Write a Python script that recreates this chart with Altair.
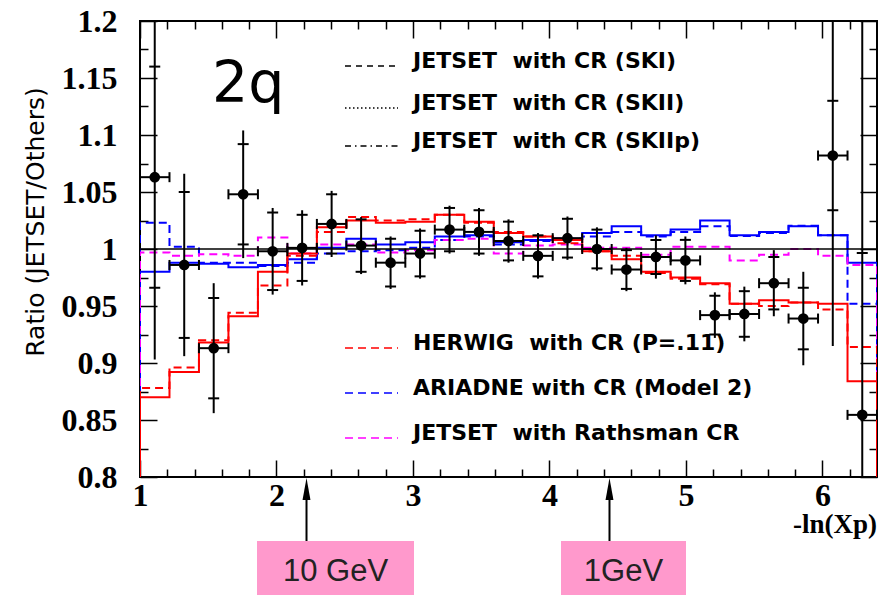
import altair as alt
import pandas as pd

# ---------------- data ----------------
bin_edges = [1.000, 1.216, 1.432, 1.648, 1.864, 2.080, 2.296, 2.512, 2.728, 2.944,
             3.160, 3.376, 3.592, 3.808, 4.024, 4.240, 4.456, 4.672, 4.888, 5.104,
             5.320, 5.536, 5.752, 5.968, 6.184, 6.400]
bin_centers = [1.108, 1.324, 1.540, 1.756, 1.972, 2.188, 2.404, 2.620, 2.836, 3.052,
               3.268, 3.484, 3.700, 3.916, 4.132, 4.348, 4.564, 4.780, 4.996, 5.212,
               5.428, 5.644, 5.860, 6.076, 6.292]
data_ratio = [1.063, 0.986, 0.913, 1.048, 0.998, 1.001, 1.022, 1.003, 0.988, 0.996,
              1.017, 1.015, 1.007, 0.994, 1.0095, 1.000, 0.982, 0.993, 0.990, 0.942,
              0.943, 0.970, 0.939, 1.082, 0.8545]
stat_err = [0.097, 0.064, 0.044, 0.044, 0.034, 0.029, 0.026, 0.023, 0.021, 0.020,
            0.019, 0.019, 0.017, 0.018, 0.017, 0.017, 0.017, 0.015, 0.018, 0.017,
            0.020, 0.023, 0.027, 0.048, 0.142]
total_err = [0.160, 0.080, 0.057, 0.056, 0.038, 0.033, 0.029, 0.025, 0.023, 0.022,
             0.021, 0.021, 0.019, 0.020, 0.019, 0.019, 0.019, 0.019, 0.021, 0.020,
             0.024, 0.029, 0.041, 0.167, 0.400]

herwig_plain = [0.870, 0.892, 0.918, 0.941, 0.980, 0.996, 1.019, 1.025, 1.023, 1.024,
                1.030, 1.024, 1.014, 1.011, 1.008, 0.998, 0.991, 0.980, 0.975, 0.970,
                0.952, 0.955, 0.953, 0.952, 0.884]
herwig_cr = [0.878, 0.896, 0.920, 0.944, 0.968, 0.994, 1.015, 1.028, 1.025, 1.026,
             1.030, 1.023, 1.015, 1.011, 1.005, 0.998, 0.994, 0.979, 0.974, 0.969,
             0.952, 0.950, 0.953, 0.947, 0.914]
ariadne_plain = [0.980, 0.988, 0.987, 0.984, 0.986, 0.991, 1.001, 1.009, 1.004, 1.006,
                 1.011, 1.012, 1.006, 1.008, 1.009, 1.014, 1.020, 1.012, 1.017, 1.025,
                 1.012, 1.015, 1.020, 1.012, 0.988]
ariadne_cr = [1.023, 1.002, 0.988, 0.988, 0.985, 0.988, 0.996, 0.998, 0.999, 1.001,
              1.008, 1.011, 1.004, 1.007, 1.009, 1.011, 1.015, 1.011, 1.015, 1.020,
              1.0115, 1.014, 1.0205, 1.012, 0.952]
rathsman_cr = [0.997, 0.994, 0.9955, 0.994, 1.010, 0.996, 1.004, 1.004, 0.997, 0.999,
               1.008, 1.009, 0.996, 1.003, 1.004, 1.001, 1.001, 0.995, 1.002, 1.002,
               0.990, 0.995, 1.000, 0.994, 0.986]

reference_level = [1.0]
x_domain = [1.0, 6.4]
y_domain = [0.8, 1.2]
x_major = [1, 2, 3, 4, 5, 6]
x_minor = [1.2, 1.4, 1.6, 1.8, 2.2, 2.4, 2.6, 2.8, 3.2, 3.4, 3.6, 3.8, 4.2, 4.4, 4.6, 4.8,
           5.2, 5.4, 5.6, 5.8, 6.2]
y_major = [0.8, 0.85, 0.9, 0.95, 1.0, 1.05, 1.1, 1.15, 1.2]
y_minor = [0.825, 0.875, 0.925, 0.975, 1.025, 1.075, 1.125, 1.175]

panel_label = "2q"
y_title = "Ratio (JETSET/Others)"
x_title = "-ln(Xp)"
legend_top = ["JETSET\u00a0 with CR (SKI)", "JETSET\u00a0 with CR (SKII)", "JETSET\u00a0 with CR (SKIIp)"]
legend_bottom = ["HERWIG\u00a0 with CR (P=.11)", "ARIADNE with CR (Model 2)", "JETSET\u00a0 with Rathsman CR"]
energy_labels = ["10 GeV", "1GeV"]
energy_positions = [2.22, 4.44]

# ---------------- helpers ----------------
XS = alt.Scale(domain=x_domain, nice=False, zero=False)
YS = alt.Scale(domain=y_domain, nice=False, zero=False)

W, H = 737, 456
MAJ, MIN = 17, 8


def step_frame(vals):
    xs = [bin_edges[0]] + bin_edges[:-1] + [bin_edges[-1], bin_edges[-1]]
    ys = [y_domain[0]] + list(vals) + [vals[-1], y_domain[0]]
    return pd.DataFrame({"x": xs, "y": ys, "i": list(range(len(xs)))})


def step_layer(vals, color, dash=None):
    kw = dict(interpolate="step-after", clip=True, color=color, strokeWidth=2)
    if dash:
        kw["strokeDash"] = dash
    return alt.Chart(step_frame(vals)).mark_line(**kw).encode(
        x=alt.X("x:Q", scale=XS, axis=None),
        y=alt.Y("y:Q", scale=YS, axis=None),
        order="i:Q",
    )


anchor = pd.DataFrame({"x": [x_domain[0]], "y": [reference_level[0]]})
common = dict(domain=False, grid=False, title=None, tickColor="black", tickWidth=1.5)


def axis_layer(xaxis, yaxis):
    return alt.Chart(anchor).mark_point(opacity=0).encode(
        x=alt.X("x:Q", scale=XS, axis=xaxis),
        y=alt.Y("y:Q", scale=YS, axis=yaxis),
    )


lab = dict(labelFont="Liberation Serif", labelFontWeight="bold", labelFontSize=32,
           labelColor="black", labelFlush=False, labelOverlap=False, labelAngle=0)

ax_layers = [
    axis_layer(
        alt.Axis(orient="bottom", values=x_major, offset=-MAJ, tickSize=MAJ, labelPadding=3,
                 format="d", **lab, **common),
        alt.Axis(orient="left", values=y_major, offset=-MAJ, tickSize=MAJ, labelPadding=23,
                 format="~g", **lab, **common),
    ),
    axis_layer(
        alt.Axis(orient="bottom", values=x_minor, offset=-MIN, tickSize=MIN, labels=False, **common),
        alt.Axis(orient="left", values=y_minor, offset=-MIN, tickSize=MIN, labels=False, **common),
    ),
    axis_layer(
        alt.Axis(orient="top", values=x_major, offset=-MAJ, tickSize=MAJ, labels=False, **common),
        alt.Axis(orient="right", values=y_major, offset=-MAJ, tickSize=MAJ, labels=False, **common),
    ),
    axis_layer(
        alt.Axis(orient="top", values=x_minor, offset=-MIN, tickSize=MIN, labels=False, **common),
        alt.Axis(orient="right", values=y_minor, offset=-MIN, tickSize=MIN, labels=False, **common),
    ),
]

# ---------------- histograms ----------------
hist_layers = [
    step_layer(ariadne_plain, "#0000FF"),
    step_layer(ariadne_cr, "#0000FF", [8, 5]),
    step_layer(rathsman_cr, "#FF00FF", [8, 5]),
    step_layer(herwig_plain, "#FF0000"),
    step_layer(herwig_cr, "#FF0000", [8, 5]),
]

ref_line = alt.Chart(pd.DataFrame({"r": reference_level})).mark_rule(
    color="black", strokeWidth=1.5).encode(y=alt.Y("r:Q", scale=YS, axis=None))

# ---------------- data points ----------------
pts = pd.DataFrame({"x": bin_centers, "y": data_ratio, "s": stat_err, "t": total_err,
                    "xlo": bin_edges[:-1], "xhi": bin_edges[1:]})
pts["slo"] = pts["y"] - pts["s"]
pts["shi"] = pts["y"] + pts["s"]
pts["tlo"] = pts["y"] - pts["t"]
pts["thi"] = pts["y"] + pts["t"]
base = alt.Chart(pts)
Xc = alt.X("x:Q", scale=XS, axis=None)
Yc = alt.Y("y:Q", scale=YS, axis=None)
pt_layers = [
    base.mark_rule(color="black", strokeWidth=2, clip=True).encode(
        x=Xc, y=alt.Y("tlo:Q", scale=YS, axis=None), y2="thi:Q"),
    base.mark_tick(orient="horizontal", size=11, thickness=2, color="black", clip=True, opacity=1).encode(
        x=Xc, y=alt.Y("slo:Q", scale=YS, axis=None)),
    base.mark_tick(orient="horizontal", size=11, thickness=2, color="black", clip=True, opacity=1).encode(
        x=Xc, y=alt.Y("shi:Q", scale=YS, axis=None)),
    base.mark_rule(color="black", strokeWidth=2, clip=True).encode(
        x=alt.X("xlo:Q", scale=XS, axis=None), x2="xhi:Q", y=Yc),
    base.mark_tick(orient="vertical", size=10, thickness=2, color="black", clip=True, opacity=1).encode(
        x=alt.X("xlo:Q", scale=XS, axis=None), y=Yc),
    base.mark_tick(orient="vertical", size=10, thickness=2, color="black", clip=True, opacity=1).encode(
        x=alt.X("xhi:Q", scale=XS, axis=None), y=Yc),
    base.mark_circle(size=115, color="black", opacity=1).encode(x=Xc, y=Yc),
]

# ---------------- annotations ----------------
def text_layer(txt, x, y, **kw):
    return alt.Chart(pd.DataFrame({"t": [txt]})).mark_text(**kw).encode(
        text="t:N", x=alt.value(x), y=alt.value(y))


def sample_layer(y, color, dash):
    return alt.Chart(pd.DataFrame({"k": [0]})).mark_rule(
        color=color, strokeWidth=1.5, strokeDash=dash).encode(
        x=alt.value(205), x2=alt.value(258), y=alt.value(y))


leg_font = dict(font="DejaVu Sans", fontWeight="bold", fontSize=22, align="left",
                baseline="alphabetic", color="black")
ann = [
    text_layer(panel_label, 72, 81, font="DejaVu Sans", fontSize=57, align="left",
               baseline="alphabetic", color="black"),
    text_layer(y_title, -104, 201, font="DejaVu Sans", fontSize=25, angle=270,
               align="center", baseline="middle", color="black"),
    text_layer(x_title, 737, 512, font="Liberation Serif", fontWeight="bold", fontSize=27,
               align="right", baseline="alphabetic", color="black"),
]
top_rows = [47, 89, 127]
top_dash = [[6, 5], [1.5, 2.5], [6, 4, 1.5, 4]]
for lbl, yy, dd in zip(legend_top, top_rows, top_dash):
    ann.append(sample_layer(yy - 2, "black", dd))
    ann.append(text_layer(lbl, 273, yy, **leg_font))
bot_rows = [329, 374, 419]
bot_col = ["#FF0000", "#0000FF", "#FF00FF"]
for lbl, yy, cc in zip(legend_bottom, bot_rows, bot_col):
    ann.append(sample_layer(yy - 2, cc, [8, 5]))
    ann.append(text_layer(lbl, 273, yy, **leg_font))

# energy markers below the axis
boxes = [(117, 274), (421, 546)]
for (bx0, bx1), lbl in zip(boxes, energy_labels):
    ann.append(alt.Chart(pd.DataFrame({"k": [0]})).mark_rect(color="#FF99CC").encode(
        x=alt.value(bx0), x2=alt.value(bx1), y=alt.value(520), y2=alt.value(590)))
    ann.append(text_layer(lbl, (bx0 + bx1) / 2, 551, font="Liberation Sans", fontSize=31,
                          align="center", baseline="middle", color="#222222"))
epos = pd.DataFrame({"e": energy_positions})
ann.append(alt.Chart(epos).mark_rule(color="black", strokeWidth=2).encode(
    x=alt.X("e:Q", scale=XS, axis=None), y=alt.value(470), y2=alt.value(520)))
ann.append(alt.Chart(epos).mark_point(shape="M0,-1L0.36,1L-0.36,1Z", filled=True, size=484,
                                      color="black", opacity=1).encode(
    x=alt.X("e:Q", scale=XS, axis=None), y=alt.value(468)))

chart = alt.layer(*ax_layers, *hist_layers, ref_line, *pt_layers, *ann).resolve_axis(
    x="independent", y="independent"
).properties(
    width=W, height=H,
    padding={"left": 140, "top": 21, "right": 16, "bottom": 118},
    autosize=alt.AutoSizeParams(type="none"),
    background="white",
).configure_view(stroke="black", strokeWidth=2)

chart.save("out.html", embed_options={"renderer": "svg", "actions": False})
